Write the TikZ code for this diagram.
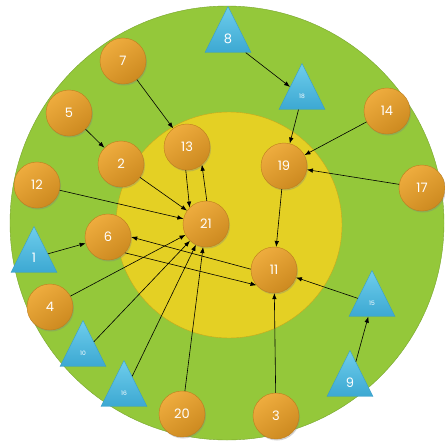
\documentclass[tikz,border=0pt]{standalone}
\usepackage{fontspec}
\setmainfont{Poppins}
\usetikzlibrary{shapes.geometric,shadows,arrows.meta}

\tikzset{
  ball/.style={circle, minimum size=46pt, inner sep=0pt, text=white,
    draw={rgb,255:red,190;green,125;blue,30}, top color={rgb,255:red,238;green,172;blue,62},
    bottom color={rgb,255:red,205;green,138;blue,32}, shading angle=35,
    font=\fontsize{13}{13}\selectfont,
    drop shadow={opacity=0.35, shadow xshift=1pt, shadow yshift=-1.5pt}},
  tri/.style={isosceles triangle, shape border rotate=90, isosceles triangle apex angle=53,
    isosceles triangle stretches, minimum width=46pt, minimum height=46pt, inner sep=0pt,
    anchor=apex, text=white, draw={rgb,255:red,55;green,155;blue,200},
    top color={rgb,255:red,110;green,205;blue,236}, bottom color={rgb,255:red,60;green,168;blue,210},
    font=\fontsize{13}{13}\selectfont},
  tiny/.style={font=\fontsize{6}{6}\selectfont},
  arr/.style={-{Latex[length=6pt,width=4.5pt]}, line width=0.6pt}
}

\begin{document}
\begin{tikzpicture}[x=1pt, y=-1pt]
\useasboundingbox (0,0) rectangle (445,440);
\clip (0,0) rectangle (445,440);
\fill[white] (0,0) rectangle (445,440);
% rings
\draw[fill={rgb,255:red,148;green,200;blue,58}, draw={rgb,255:red,120;green,165;blue,45}] (227,223) circle[radius=217];
\draw[fill={rgb,255:red,228;green,208;blue,36}, draw={rgb,255:red,200;green,168;blue,30}] (229,225) circle[radius=113];

% triangles
\node[tri] (n8) at (228,6) {8};
\node[tri, tiny] (n18) at (302,63) {18};
\node[tri] (n1) at (34,226) {1};
\node[tri, tiny] (n10) at (83,320) {10};
\node[tri, tiny] (n16) at (124,360) {16};
\node[tri, tiny] (n15) at (372,270) {15};
\node[tri] (n9) at (350,350) {9};

% balls
\node[ball] (n7) at (123,61) {7};
\node[ball] (n5) at (69,113) {5};
\node[ball] (n2) at (121,164) {2};
\node[ball] (n12) at (37,185) {12};
\node[ball] (n13) at (187,147) {13};
\node[ball] (n19) at (284,166) {19};
\node[ball] (n14) at (387,111) {14};
\node[ball] (n17) at (422,188) {17};
\node[ball] (n21) at (206,224) {21};
\node[ball] (n6) at (108,237) {6};
\node[ball] (n11) at (274,270) {11};
\node[ball] (n4) at (50,307) {4};
\node[ball] (n20) at (182,414) {20};
\node[ball] (n3) at (276,416) {3};

% links
\draw[arr] (n8) -- (n18); \draw[arr] (n18) -- (n19);
\draw[arr] (n14) -- (n19); \draw[arr] (n17) -- (n19);
\draw[arr] (n19) -- (n11);
\draw[arr] (n7) -- (n13); \draw[arr] (n5) -- (n2);
\draw[arr] (n2) -- (n21); \draw[arr] (n12) -- (n21);
\draw[arr] (n13.-93) -- (n21.135); \draw[arr] (n21.88) -- (n13.-50);
\draw[arr] (n1) -- (n6);
\draw[arr] (n4) -- (n21); \draw[arr] (n10) -- (n21);
\draw[arr] (n16) -- (n21); \draw[arr] (n20) -- (n21);
\draw[arr] (n6.-43) -- (n11.221); \draw[arr] (n11.178) -- (n6.0);
\draw[arr] (n3) -- (n11); \draw[arr] (n15) -- (n11);
\draw[arr] (n9) -- (n15);
\end{tikzpicture}
\end{document}
